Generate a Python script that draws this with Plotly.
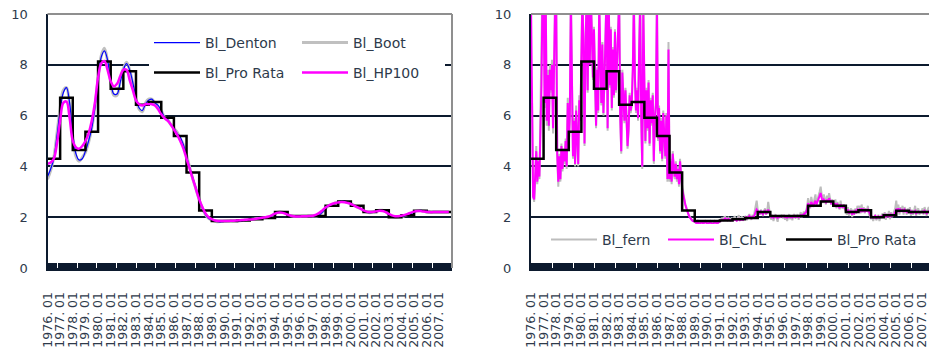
import plotly.graph_objects as go

# ---------------- data ----------------
years = list(range(1976, 2008))
tick_labels = [f"{y}. 01" for y in years]
y_ticks = [0, 2, 4, 6, 8, 10]

# annual pro-rata benchmark (one value per year)
pro_rata = [4.3, 6.7, 4.65, 5.36, 8.13, 7.06, 7.75, 6.43, 6.54, 5.92, 5.2, 3.76, 2.26,
            1.85, 1.85, 1.87, 1.92, 1.97, 2.2, 2.05, 2.05, 2.05, 2.45, 2.62, 2.45, 2.2,
            2.27, 2.0, 2.08, 2.25, 2.2, 2.2]

# quarterly series (left chart)
denton = [3.6, 3.9, 4.3, 5.2, 6.2, 6.9, 7.1, 6.5, 5.3, 4.5, 4.25, 4.3, 4.6, 5.0, 5.5, 6.3,
          7.4, 8.3, 8.55, 8.2, 7.3, 6.85, 6.85, 7.3, 7.8, 8.05, 7.8, 7.3, 6.7, 6.3, 6.2, 6.45,
          6.6, 6.65, 6.5, 6.4, 6.2, 5.95, 5.85, 5.65, 5.5, 5.3, 5.15, 4.85, 4.4, 3.95, 3.55, 3.15,
          2.75, 2.35, 2.1, 1.95, 1.9, 1.85, 1.82, 1.82, 1.83, 1.85, 1.85, 1.85, 1.85, 1.85, 1.87, 1.9,
          1.9, 1.92, 1.93, 1.95, 1.95, 1.97, 2.0, 2.05, 2.12, 2.2, 2.22, 2.18, 2.1, 2.05, 2.03, 2.02,
          2.03, 2.04, 2.05, 2.05, 2.03, 2.03, 2.08, 2.2, 2.35, 2.45, 2.5, 2.55, 2.6, 2.63, 2.63, 2.6,
          2.55, 2.45, 2.4, 2.35, 2.25, 2.2, 2.18, 2.2, 2.22, 2.28, 2.28, 2.22, 2.1, 2.02, 2.0, 2.0,
          2.03, 2.05, 2.1, 2.15, 2.2, 2.25, 2.27, 2.25, 2.22, 2.2, 2.2, 2.2, 2.2, 2.2, 2.2, 2.2]
boot = [3.5, 3.85, 4.35, 5.3, 6.3, 7.0, 7.1, 6.4, 5.2, 4.4, 4.2, 4.35, 4.55, 4.95, 5.5, 6.35,
        7.4, 8.35, 8.65, 8.15, 7.3, 6.8, 6.8, 7.35, 7.85, 8.1, 7.8, 7.25, 6.65, 6.25, 6.15, 6.5,
        6.65, 6.65, 6.5, 6.35, 6.2, 5.95, 5.85, 5.65, 5.5, 5.35, 5.1, 4.85, 4.45, 3.95, 3.5, 3.1,
        2.7, 2.35, 2.1, 1.95, 1.88, 1.84, 1.82, 1.83, 1.84, 1.85, 1.86, 1.85, 1.84, 1.86, 1.88, 1.9,
        1.91, 1.92, 1.94, 1.95, 1.96, 1.98, 2.0, 2.06, 2.13, 2.2, 2.21, 2.17, 2.1, 2.05, 2.03, 2.03,
        2.03, 2.04, 2.04, 2.05, 2.04, 2.04, 2.09, 2.2, 2.34, 2.44, 2.5, 2.56, 2.6, 2.62, 2.62, 2.59,
        2.54, 2.46, 2.4, 2.34, 2.26, 2.2, 2.18, 2.21, 2.23, 2.27, 2.27, 2.22, 2.11, 2.03, 2.0, 2.01,
        2.03, 2.06, 2.1, 2.15, 2.21, 2.25, 2.26, 2.24, 2.22, 2.2, 2.2, 2.2, 2.2, 2.2, 2.2, 2.2]
hp100 = [4.1, 4.15, 4.3, 4.9, 5.8, 6.5, 6.55, 5.9, 5.0, 4.75, 4.7, 4.8, 5.0, 5.3, 5.8, 6.5,
         7.5, 8.05, 8.15, 7.8, 7.35, 7.15, 7.25, 7.55, 7.8, 7.8, 7.4, 7.0, 6.6, 6.45, 6.4, 6.45,
         6.45, 6.45, 6.4, 6.25, 6.05, 5.9, 5.8, 5.65, 5.45, 5.25, 5.0, 4.7, 4.3, 3.9, 3.5, 3.1,
         2.7, 2.4, 2.15, 2.0, 1.92, 1.87, 1.85, 1.85, 1.85, 1.85, 1.86, 1.86, 1.87, 1.88, 1.89, 1.9,
         1.91, 1.92, 1.94, 1.96, 1.98, 2.0, 2.03, 2.08, 2.14, 2.18, 2.18, 2.15, 2.1, 2.06, 2.04, 2.03,
         2.03, 2.04, 2.04, 2.05, 2.06, 2.1, 2.17, 2.27, 2.38, 2.46, 2.52, 2.56, 2.58, 2.6, 2.59, 2.56,
         2.52, 2.46, 2.4, 2.34, 2.27, 2.22, 2.2, 2.21, 2.23, 2.25, 2.24, 2.2, 2.13, 2.07, 2.04, 2.04,
         2.06, 2.09, 2.13, 2.18, 2.22, 2.24, 2.24, 2.22, 2.21, 2.2, 2.2, 2.2, 2.2, 2.2, 2.2, 2.2]

# monthly series (right chart)
fern = [6.3, 6.5, 2.9, 2.6, 3.4, 4.8, 3.3, 4.3, 3.5, 5.8, 7.6, 11.5,
        11.2, 6.3, 11.0, 5.6, 7.8, 5.4, 8.0, 6.9, 8.2, 5.3, 7.6, 10.8,
        10.6, 4.4, 3.2, 4.5, 3.4, 4.9, 3.8, 4.7, 4.1, 5.1, 3.9, 6.7,
        4.7, 6.1, 10.8, 6.9, 4.3, 5.9, 4.0, 6.4, 4.9, 4.0, 6.8, 5.9,
        8.3, 11.0, 8.6, 4.8, 9.2, 10.7, 6.9, 11.2, 8.1, 10.8, 9.3, 7.4,
        9.5, 6.4, 5.5, 7.9, 6.1, 10.6, 8.1, 6.4, 8.9, 6.0, 7.5, 9.1,
        11.0, 5.4, 11.2, 7.1, 9.5, 6.2, 8.7, 6.7, 9.4, 6.9, 8.6, 10.4,
        10.7, 5.9, 4.5, 7.8, 6.2, 5.7, 7.1, 6.0, 4.7, 5.4, 6.9, 6.1,
        6.4, 7.9, 10.7, 7.6, 6.1, 7.1, 5.8, 8.6, 10.6, 5.9, 3.9, 10.4,
        6.1, 4.9, 7.1, 5.4, 7.4, 4.8, 6.7, 5.6, 6.9, 4.1, 6.0, 6.5,
        10.7, 5.0, 6.4, 4.5, 5.9, 4.2, 6.2, 4.9, 4.3, 6.1, 3.4, 8.9,
        3.4, 4.3, 3.3, 4.6, 3.7, 3.5, 4.2, 3.4, 4.0, 3.2, 4.3, 3.5,
        3.2, 2.9, 2.7, 2.5, 2.4, 2.2, 2.1, 2.05, 1.95, 1.9, 1.88, 1.85,
        1.85, 1.82, 1.8, 1.86, 1.8, 1.78, 1.84, 1.85, 1.8, 1.82, 1.86, 1.83,
        1.82, 1.8, 1.84, 1.86, 1.8, 1.78, 1.82, 1.86, 1.84, 1.8, 1.83, 1.86,
        1.88, 1.92, 1.96, 1.9, 2.0, 2.02, 1.94, 1.9, 1.98, 1.95, 1.9, 1.96,
        1.95, 1.9, 2.05, 1.92, 1.88, 1.98, 2.08, 1.9, 1.95, 2.02, 1.92, 2.0,
        2.02, 1.95, 1.92, 2.05, 2.12, 1.98, 1.9, 2.1, 1.96, 2.2, 2.4, 2.65,
        2.3, 2.15, 2.1, 2.3, 2.2, 2.05, 2.25, 2.35, 2.1, 2.2, 2.6, 2.25,
        2.0, 1.9, 2.1, 1.85, 2.05, 2.12, 1.95, 1.82, 2.08, 1.98, 2.05, 2.1,
        1.95, 2.1, 1.9, 2.05, 1.85, 2.0, 2.12, 1.92, 2.05, 1.88, 2.08, 2.12,
        1.95, 2.05, 2.12, 1.9, 2.05, 2.2, 2.0, 2.15, 2.22, 2.1, 2.25, 2.4,
        2.75, 2.5, 2.35, 2.8, 2.55, 2.4, 2.7, 2.9, 2.5, 2.75, 2.85, 3.0,
        3.2, 2.85, 2.55, 2.9, 2.7, 2.5, 2.85, 2.6, 2.95, 2.7, 2.5, 2.7,
        2.6, 2.4, 2.7, 2.35, 2.6, 2.45, 2.3, 2.65, 2.4, 2.35, 2.5, 2.3,
        2.2, 2.1, 2.4, 2.05, 2.25, 2.35, 2.0, 2.3, 2.1, 2.35, 2.15, 2.45,
        2.3, 2.45, 2.15, 2.5, 2.2, 2.4, 2.15, 2.35, 2.25, 2.45, 2.1, 2.05,
        1.92, 2.05, 1.85, 2.0, 2.1, 1.88, 1.95, 2.1, 1.85, 2.0, 2.08, 2.15,
        2.0, 2.2, 1.9, 2.15, 2.0, 2.25, 1.92, 2.2, 2.0, 2.15, 2.2, 2.35,
        2.65, 2.2, 2.5, 2.1, 2.4, 2.2, 2.45, 2.1, 2.4, 2.2, 2.1, 2.35,
        2.15, 2.4, 2.05, 2.3, 2.1, 2.25, 2.45, 2.05, 2.3, 2.35, 2.1, 2.2,
        2.15, 2.35, 2.1, 2.4, 2.2, 2.05, 2.3, 2.4, 2.1, 2.25, 2.35, 2.2]
chl = [10.5, 6.0, 2.8, 2.7, 3.5, 4.6, 3.4, 4.2, 3.6, 5.5, 7.2, 11.0,
       11.0, 6.5, 10.8, 5.8, 7.6, 5.6, 7.8, 7.0, 8.0, 5.5, 7.4, 10.5,
       10.4, 4.5, 3.4, 4.4, 3.5, 4.8, 3.9, 4.6, 4.2, 5.0, 4.0, 6.5,
       4.8, 6.0, 10.6, 6.8, 4.4, 5.8, 4.1, 6.2, 5.0, 4.1, 6.6, 5.8,
       8.2, 10.8, 8.5, 4.9, 9.0, 10.5, 7.0, 11.0, 8.0, 10.6, 9.2, 7.5,
       9.4, 6.5, 5.6, 7.8, 6.2, 10.4, 8.0, 6.5, 8.8, 6.1, 7.4, 9.0,
       10.8, 5.5, 11.0, 7.2, 9.4, 6.3, 8.6, 6.8, 9.3, 7.0, 8.5, 10.2,
       10.5, 6.0, 4.6, 7.7, 6.3, 5.8, 7.0, 6.1, 4.8, 5.5, 6.8, 6.2,
       6.5, 7.8, 10.5, 7.5, 6.2, 7.0, 5.9, 8.5, 10.4, 6.0, 4.0, 10.2,
       6.2, 5.0, 7.0, 5.5, 7.3, 4.9, 6.6, 5.7, 6.8, 4.2, 5.9, 6.4,
       10.5, 5.1, 6.3, 4.6, 5.8, 4.3, 6.1, 5.0, 4.4, 6.0, 3.5, 8.6,
       3.5, 4.2, 3.4, 4.5, 3.8, 3.6, 4.1, 3.5, 3.9, 3.3, 4.2, 3.6,
       3.1, 2.9, 2.6, 2.5, 2.35, 2.2, 2.1, 2.0, 1.95, 1.9, 1.85, 1.85,
       1.8, 1.78, 1.75, 1.8, 1.76, 1.74, 1.78, 1.8, 1.75, 1.77, 1.8, 1.78,
       1.76, 1.74, 1.78, 1.8, 1.75, 1.72, 1.76, 1.8, 1.78, 1.75, 1.77, 1.8,
       1.82, 1.86, 1.9, 1.88, 1.92, 1.95, 1.9, 1.88, 1.93, 1.9, 1.87, 1.9,
       1.9, 1.88, 1.92, 1.9, 1.86, 1.9, 1.93, 1.88, 1.9, 1.92, 1.89, 1.95,
       1.97, 2.0, 1.95, 1.98, 2.05, 2.0, 1.96, 2.02, 2.0, 2.08, 2.2, 2.3,
       2.25, 2.2, 2.15, 2.22, 2.18, 2.12, 2.2, 2.25, 2.15, 2.18, 2.3, 2.2,
       2.05, 2.0, 2.03, 1.98, 2.02, 2.05, 2.0, 1.97, 2.03, 2.0, 2.02, 2.04,
       2.02, 2.05, 2.0, 2.03, 1.98, 2.01, 2.04, 2.0, 2.02, 1.99, 2.03, 2.05,
       2.0, 2.02, 2.05, 2.0, 2.03, 2.08, 2.05, 2.1, 2.12, 2.15, 2.2, 2.3,
       2.55, 2.45, 2.4, 2.6, 2.5, 2.45, 2.55, 2.65, 2.5, 2.6, 2.7, 2.8,
       2.95, 2.75, 2.6, 2.7, 2.65, 2.55, 2.7, 2.6, 2.75, 2.65, 2.55, 2.6,
       2.5, 2.45, 2.55, 2.4, 2.5, 2.45, 2.35, 2.5, 2.42, 2.4, 2.45, 2.35,
       2.25, 2.2, 2.3, 2.15, 2.2, 2.25, 2.1, 2.2, 2.15, 2.25, 2.2, 2.3,
       2.25, 2.3, 2.2, 2.35, 2.25, 2.3, 2.2, 2.28, 2.25, 2.3, 2.2, 2.15,
       2.0, 2.02, 1.98, 2.0, 2.05, 1.97, 2.0, 2.03, 1.98, 2.0, 2.02, 2.05,
       2.05, 2.1, 2.0, 2.08, 2.05, 2.12, 2.0, 2.1, 2.05, 2.08, 2.1, 2.2,
       2.3, 2.25, 2.35, 2.2, 2.3, 2.25, 2.28, 2.2, 2.3, 2.25, 2.2, 2.25,
       2.2, 2.25, 2.15, 2.22, 2.18, 2.2, 2.25, 2.15, 2.2, 2.22, 2.18, 2.2,
       2.2, 2.22, 2.18, 2.25, 2.2, 2.15, 2.2, 2.23, 2.18, 2.2, 2.22, 2.2]

# ---------------- style ----------------
W, H = 929, 349
DARK = "#0c1a2e"
GRAY_BORDER = "#8f8f8f"
TXT = "#2e3a4b"
FONT = "DejaVu Sans"

x_q = [y + q / 4 for y in years for q in range(4)]
x_m = [y + m / 12 for y in years for m in range(12)]
x_step = years + [years[-1] + 1]
y_step = pro_rata + [pro_rata[-1]]

fig = go.Figure()

# left chart
fig.add_trace(go.Scatter(x=x_q, y=boot, name="Bl_Boot", mode="lines", line=dict(color="#c0c0c0", width=3, shape="spline"),
                         xaxis="x", yaxis="y", legend="legend", legendrank=2))
fig.add_trace(go.Scatter(x=x_q, y=denton, name="Bl_Denton", mode="lines", line=dict(color="#0000ff", width=1.2, shape="spline"),
                         xaxis="x", yaxis="y", legend="legend", legendrank=1))
fig.add_trace(go.Scatter(x=x_step, y=y_step, name="Bl_Pro Rata", mode="lines", line=dict(color="#000000", width=2.5, shape="hv"),
                         xaxis="x", yaxis="y", legend="legend2", legendrank=1))
fig.add_trace(go.Scatter(x=x_q, y=hp100, name="Bl_HP100", mode="lines", line=dict(color="#ff00ff", width=2.5, shape="spline"),
                         xaxis="x", yaxis="y", legend="legend2", legendrank=2))

# right chart
fig.add_trace(go.Scatter(x=x_m, y=fern, name="Bl_fern", mode="lines", line=dict(color="#bdbdbd", width=2),
                         xaxis="x2", yaxis="y2", legend="legend3"))
fig.add_trace(go.Scatter(x=x_m, y=chl, name="Bl_ChL", mode="lines", line=dict(color="#ff00ff", width=2),
                         xaxis="x2", yaxis="y2", legend="legend3"))
fig.add_trace(go.Scatter(x=x_step, y=y_step, name="Bl_Pro Rata", mode="lines", line=dict(color="#000000", width=2.5, shape="hv"),
                         xaxis="x2", yaxis="y2", legend="legend4"))

ydom = [(H - 268) / H, (H - 14) / H]


def xax(domain, rng, anchor):
    return dict(domain=domain, range=rng, anchor=anchor, tickmode="array", tickvals=years, ticktext=tick_labels,
                tickangle=-90, ticks="", showgrid=False, zeroline=False, showline=True, linecolor=DARK, linewidth=3,
                tickfont=dict(family=FONT, size=12.5, color=TXT), ticklabelstandoff=16, automargin=False,
                ticklabeloverflow="allow",
                minor=dict(tickmode="linear", tick0=1976, dtick=1 / 12, ticks="inside", ticklen=5, tickwidth=1,
                           tickcolor=DARK, showgrid=False))


def yax(anchor):
    return dict(domain=ydom, range=[0, 10], anchor=anchor, tickmode="array", tickvals=y_ticks, showgrid=True,
                gridcolor=DARK, gridwidth=2, zeroline=False, showline=True, linecolor=DARK, linewidth=2, ticks="",
                tickfont=dict(family=FONT, size=13, color=TXT), ticklabelstandoff=15, automargin=False)


legfont = dict(family=FONT, size=14, color=TXT)


def leg(x, y, ew):
    return dict(x=x / W, y=(H - y) / H, xanchor="left", yanchor="middle", orientation="h", bgcolor="white",
                font=legfont, entrywidth=ew, itemwidth=46)


fig.update_layout(
    width=W, height=H, margin=dict(l=0, r=0, t=0, b=0, autoexpand=False),
    paper_bgcolor="white", plot_bgcolor="white",
    xaxis=xax([47.5 / W, 452 / W], [1976, 2008], "y"),
    yaxis=yax("x"),
    xaxis2=xax([531 / W, 1.0], [1976, 2007.6], "y2"),
    yaxis2=yax("x2"),
    showlegend=True,
    legend=leg(149, 43, 87),
    legend2=leg(149, 73, 87),
    legend3=leg(546, 240, 56),
    legend4=leg(781, 240, 90),
    shapes=[
        dict(type="line", xref="x domain", yref="y domain", x0=0, x1=1, y0=1, y1=1, line=dict(color=GRAY_BORDER, width=2), layer="above"),
        dict(type="line", xref="x domain", yref="y domain", x0=1, x1=1, y0=0, y1=1, line=dict(color=GRAY_BORDER, width=2), layer="above"),
        dict(type="line", xref="x2 domain", yref="y2 domain", x0=0, x1=1, y0=1, y1=1, line=dict(color=GRAY_BORDER, width=2), layer="above"),
    ],
)

fig.write_html("out.html", config={"displayModeBar": False},
               post_script="document.body.style.margin='0';document.body.style.overflow='hidden';")
